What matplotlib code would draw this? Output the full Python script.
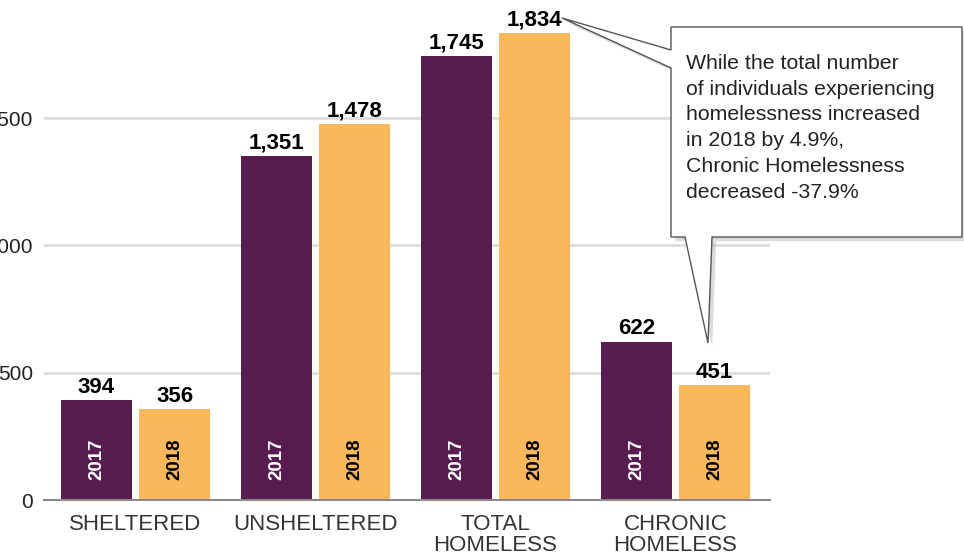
import matplotlib
matplotlib.use("Agg")
import matplotlib.pyplot as plt
import matplotlib.patheffects as pe
from matplotlib.patches import Polygon
from matplotlib.transforms import IdentityTransform
import numpy as np

plt.rcParams['font.family'] = ['Liberation Sans', 'DejaVu Sans']

categories = ['SHELTERED', 'UNSHELTERED', 'TOTAL\nHOMELESS', 'CHRONIC\nHOMELESS']
years = ['2017', '2018']
values_2017 = [394, 1351, 1745, 622]
values_2018 = [356, 1478, 1834, 451]
ytick_vals = [0, 500, 1000, 1500]
ytick_labels = ['0', '500', '1,000', '1,500']
note = ("While the total number\n"
        "of individuals experiencing\n"
        "homelessness increased\n"
        "in 2018 by 4.9%,\n"
        "Chronic Homelessness\n"
        "decreased -37.9%")

purple = '#581c50'
orange = '#fbb75b'

W, H = 964, 560
fig = plt.figure(figsize=(W / 100, H / 100), dpi=100)
ax = fig.add_axes([44 / W, 60 / H, (770 - 44) / W, 500 / H])

x = np.arange(len(categories))
bw = 0.394
off = 0.217
series = [(values_2017, -off, purple, 'white'), (values_2018, off, orange, 'black')]

for (vals, dx, col, ycol), yr in zip(series, years):
    bars = ax.bar(x + dx, vals, width=bw, color=col, zorder=3)
    for b, v in zip(bars, vals):
        cx = b.get_x() + b.get_width() / 2
        ax.annotate(f'{v:,}', (cx, v), xytext=(0, 1.5), textcoords='offset points',
                    ha='center', va='bottom', fontsize=16, fontweight='bold', color='black', zorder=4)
        ax.annotate(yr, (cx, 0), xytext=(0, 14.5), textcoords='offset points',
                    ha='center', va='bottom', rotation=90, fontsize=13.5,
                    fontweight='bold', color=ycol, zorder=4)

ax.set_xlim(-0.508, 3.525)
ax.set_ylim(0, 1963)
ax.set_yticks(ytick_vals)
ax.set_yticklabels(ytick_labels, fontsize=15, color='#222222')
ax.set_xticks(x)
ax.set_xticklabels(categories, fontsize=16, color='#333333', linespacing=1.0)
ax.tick_params(axis='both', length=0)
ax.tick_params(axis='y', pad=8)
ax.tick_params(axis='x', pad=10)
ax.yaxis.grid(True, color='#dddddd', linewidth=2, zorder=0)
ax.set_axisbelow(True)
for s in ['top', 'right', 'left']:
    ax.spines[s].set_visible(False)
ax.spines['bottom'].set_color('#8a8a8a')
ax.spines['bottom'].set_linewidth(1.5)
ax.spines['bottom'].set_zorder(5)

# callout box (pixel coords, y measured from top)
pts = [(671, 27), (962, 27), (962, 237), (712, 237), (708, 343), (685, 237),
       (671, 237), (671, 68), (562, 18), (671, 50)]
pts = [(px, H - py) for px, py in pts]
box = Polygon(pts, closed=True, transform=IdentityTransform(), facecolor='white',
              edgecolor='#555555', linewidth=1.0, zorder=10)
box.set_path_effects([pe.SimplePatchShadow(offset=(3, -3), shadow_rgbFace='#999999', alpha=0.35),
                      pe.Normal()])
fig.patches.append(box)
fig.text(686 / W, 1 - 54 / H, note, ha='left', va='top', fontsize=15.3,
         color='#222222', linespacing=1.45, zorder=11)

fig.savefig('out.png', dpi=100)
